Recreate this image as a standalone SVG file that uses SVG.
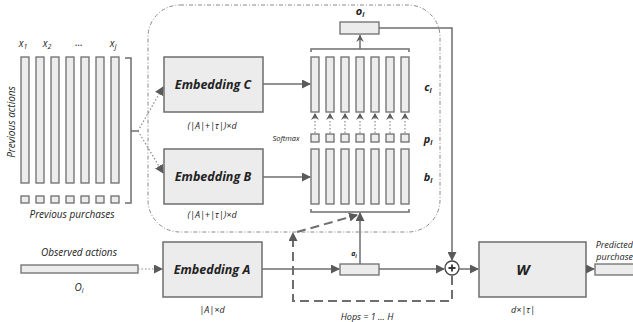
<svg xmlns="http://www.w3.org/2000/svg" width="633" height="322" viewBox="0 0 633 322">
<style>
text{font-family:"Open Sans","Liberation Sans",sans-serif;font-style:italic;fill:#222}
.cell{fill:#ececec;stroke:#6e6e6e;stroke-width:1.3}
.box{fill:#ececec;stroke:#6e6e6e;stroke-width:1.5}
.ln{stroke:#6e6e6e;stroke-width:1.5;fill:none}
.dot{stroke:#8a8a8a;stroke-width:1.2;stroke-dasharray:1.5,2;fill:none}
.dash{stroke:#6e6e6e;stroke-width:2;stroke-dasharray:9,5;fill:none}
.emb{font-weight:bold;font-size:12.5px;text-anchor:middle}
.dim{font-size:9px;text-anchor:middle}
.lbl{font-size:10px;text-anchor:middle}
.vb{font-weight:bold;font-size:11px;text-anchor:middle}
</style>
<defs>
<marker id="ah" markerWidth="9" markerHeight="9" refX="8" refY="4.5" orient="auto" markerUnits="userSpaceOnUse"><path d="M0,0 L9,4.5 L0,9 Z" fill="#5a5a5a"/></marker>
<marker id="ch" markerWidth="8" markerHeight="8" refX="7" refY="4" orient="auto" markerUnits="userSpaceOnUse"><path d="M0,0 L7,4 L0,8 L2.5,4 Z" fill="#5a5a5a"/></marker>
</defs>

<g id="memory-boundary">
<rect x="148" y="5" width="292" height="227" rx="32" ry="32" fill="none" stroke="#8a8a8a" stroke-width="1" stroke-dasharray="4,2,1,2"/>
</g>

<g id="previous-actions">
<rect class="cell" x="21" y="57" width="8" height="126"/>
<rect class="cell" x="36" y="57" width="8" height="126"/>
<rect class="cell" x="51" y="57" width="8" height="126"/>
<rect class="cell" x="66" y="57" width="8" height="126"/>
<rect class="cell" x="81" y="57" width="8" height="126"/>
<rect class="cell" x="96" y="57" width="8" height="126"/>
<rect class="cell" x="111" y="57" width="8" height="126"/>
<rect class="cell" x="21" y="196" width="8" height="7"/>
<rect class="cell" x="36" y="196" width="8" height="7"/>
<rect class="cell" x="51" y="196" width="8" height="7"/>
<rect class="cell" x="66" y="196" width="8" height="7"/>
<rect class="cell" x="81" y="196" width="8" height="7"/>
<rect class="cell" x="96" y="196" width="8" height="7"/>
<rect class="cell" x="111" y="196" width="8" height="7"/>
<path class="ln" d="M125,58 H131 V203 H125 M131,131 H138"/>
<text x="23" y="47" class="lbl" font-size="11">x<tspan font-size="7" dy="2">1</tspan></text>
<text x="47" y="47" class="lbl" font-size="11">x<tspan font-size="7" dy="2">2</tspan></text>
<text x="79" y="46" class="lbl">...</text>
<text x="113" y="47" class="lbl" font-size="11">x<tspan font-size="7" dy="2">J</tspan></text>
<text transform="translate(15,122) rotate(-90)" class="lbl">Previous actions</text>
<text x="72" y="218" class="lbl">Previous purchases</text>
</g>

<g id="embedding-c">
<rect class="box" x="164" y="57" width="99" height="55"/>
<text x="213" y="89" class="emb">Embedding C</text>
<text x="212" y="129" class="dim">(|A|+|τ|)×d</text>
</g>

<g id="embedding-b">
<rect class="box" x="164" y="149" width="99" height="55"/>
<text x="213" y="181" class="emb">Embedding B</text>
<text x="212" y="218" class="dim">(|A|+|τ|)×d</text>
</g>

<g id="embedding-a">
<rect class="box" x="163" y="242" width="99" height="55"/>
<text x="212" y="274" class="emb">Embedding A</text>
<text x="212" y="313" class="dim">|A|×d</text>
</g>

<g id="observed-actions">
<rect class="cell" x="21" y="265" width="117" height="8"/>
<text x="79" y="256" class="lbl">Observed actions</text>
<text x="79" y="291" class="lbl">O<tspan font-size="7" dy="2">i</tspan></text>
</g>

<g id="memory-c">
<rect class="cell" x="311" y="57" width="8" height="55"/>
<rect class="cell" x="326" y="57" width="8" height="55"/>
<rect class="cell" x="341" y="57" width="8" height="55"/>
<rect class="cell" x="356" y="57" width="8" height="55"/>
<rect class="cell" x="371" y="57" width="8" height="55"/>
<rect class="cell" x="386" y="57" width="8" height="55"/>
<rect class="cell" x="401" y="57" width="8" height="55"/>
<path class="ln" d="M311,52 V49 H409 V52"/>
<text x="428" y="91" class="vb">c<tspan font-size="7" dy="2">i</tspan></text>
</g>

<g id="attention-p">
<rect class="cell" x="311" y="134" width="8" height="8"/>
<rect class="cell" x="326" y="134" width="8" height="8"/>
<rect class="cell" x="341" y="134" width="8" height="8"/>
<rect class="cell" x="356" y="134" width="8" height="8"/>
<rect class="cell" x="371" y="134" width="8" height="8"/>
<rect class="cell" x="386" y="134" width="8" height="8"/>
<rect class="cell" x="401" y="134" width="8" height="8"/>
<text x="286" y="141" font-size="7.5" text-anchor="middle" fill="#555">Softmax</text>
<text x="428" y="143" class="vb">p<tspan font-size="7" dy="2">i</tspan></text>
</g>

<g id="memory-b">
<rect class="cell" x="311" y="149" width="8" height="55"/>
<rect class="cell" x="326" y="149" width="8" height="55"/>
<rect class="cell" x="341" y="149" width="8" height="55"/>
<rect class="cell" x="356" y="149" width="8" height="55"/>
<rect class="cell" x="371" y="149" width="8" height="55"/>
<rect class="cell" x="386" y="149" width="8" height="55"/>
<rect class="cell" x="401" y="149" width="8" height="55"/>
<path class="ln" d="M311,209 V212 H409 V209"/>
<text x="428" y="181" class="vb">b<tspan font-size="7" dy="2">i</tspan></text>
</g>

<g id="output-o">
<rect class="cell" x="340" y="22" width="39" height="12"/>
<text x="360" y="15" class="vb">o<tspan font-size="7" dy="2">i</tspan></text>
</g>

<g id="query-a">
<rect class="cell" x="340" y="264" width="39" height="11"/>
<text x="354" y="256" font-size="7" font-weight="bold" text-anchor="middle">a<tspan font-size="5" dy="1.5">i</tspan></text>
</g>

<g id="sum">
<circle cx="452" cy="268" r="7" fill="#fff" stroke="#444" stroke-width="1.3"/>
<path d="M452,264.5 V271.5 M448.5,268 H455.5" stroke="#333" stroke-width="1.8"/>
</g>

<g id="w">
<rect class="box" x="479" y="242" width="107" height="55"/>
<text x="523" y="275" font-size="15" font-weight="bold" text-anchor="middle">W</text>
<text x="523" y="313" class="dim">d×|τ|</text>
</g>

<g id="predicted">
<rect class="cell" x="595" y="264" width="40" height="11"/>
<text x="633" y="248" font-size="9" text-anchor="end">Predicted</text>
<text x="633" y="260" font-size="9" text-anchor="end">purchase</text>
</g>

<g id="hops">
<text x="367" y="320" font-size="9" text-anchor="middle">Hops = 1 ... H</text>
</g>

<g id="connectors">
<path class="dot" d="M138,131 L163,87" marker-end="url(#ah)"/>
<path class="dot" d="M138,131 L163,173" marker-end="url(#ah)"/>
<path class="ln" d="M263,84 H310" marker-end="url(#ah)"/>
<path class="ln" d="M263,177 H310" marker-end="url(#ah)"/>
<path class="dot" d="M315,133 V113" marker-end="url(#ch)"/>
<path class="dot" d="M330,133 V113" marker-end="url(#ch)"/>
<path class="dot" d="M345,133 V113" marker-end="url(#ch)"/>
<path class="dot" d="M360,133 V113" marker-end="url(#ch)"/>
<path class="dot" d="M375,133 V113" marker-end="url(#ch)"/>
<path class="dot" d="M390,133 V113" marker-end="url(#ch)"/>
<path class="dot" d="M405,133 V113" marker-end="url(#ch)"/>
<path class="ln" d="M360,49 V35" marker-end="url(#ch)"/>
<path class="ln" d="M379,28 H452 V260" marker-end="url(#ah)"/>
<path class="dot" d="M138,269 H162" marker-end="url(#ah)"/>
<path class="ln" d="M262,269 H339" marker-end="url(#ah)"/>
<path class="ln" d="M379,269 H444" marker-end="url(#ah)"/>
<path class="ln" d="M459,269 H478" marker-end="url(#ah)"/>
<path class="ln" d="M586,269 H594" marker-end="url(#ah)"/>
<path class="ln" d="M360,264 V213" marker-end="url(#ah)"/>
<path class="dash" d="M452,276 V301 H293 V233" marker-end="url(#ah)"/>
<path class="dash" d="M297,232 L357,215" marker-end="url(#ah)"/>
</g>
</svg>
